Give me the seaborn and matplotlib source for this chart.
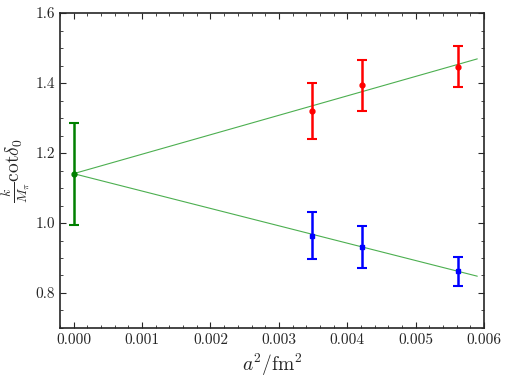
import matplotlib
matplotlib.use("Agg")
import matplotlib.pyplot as plt
import seaborn as sns
from matplotlib.ticker import MultipleLocator, FormatStrFormatter

# DATA
a2 = [0.00348, 0.00422, 0.00562]
red_y = [1.321, 1.393, 1.447]
red_err = [0.080, 0.072, 0.059]
blue_y = [0.964, 0.932, 0.862]
blue_err = [0.067, 0.060, 0.041]
cont_x = [0.0]
cont_y = [1.141]
cont_err = [0.146]

fit_x = [0.0, 0.0059]
fit_upper = [1.141, 1.469]
fit_lower = [1.141, 0.848]

sns.set_style("ticks")
plt.rcParams["font.family"] = ["cmr10", "DejaVu Serif"]
plt.rcParams["mathtext.fontset"] = "cm"
plt.rcParams["axes.formatter.use_mathtext"] = True

fig = plt.figure(figsize=(5.08, 3.79), dpi=100)
ax = fig.add_axes([0.118, 0.1346, 0.835, 0.831])

# fit lines
sns.lineplot(x=fit_x, y=fit_upper, color="#4caf50", lw=0.8, ax=ax)
sns.lineplot(x=fit_x, y=fit_lower, color="#4caf50", lw=0.8, ax=ax)

# data points
ax.errorbar(a2, red_y, yerr=red_err, fmt="o", color="red", ms=3.5,
            elinewidth=1.8, capsize=3.5, capthick=1.5)
ax.errorbar(a2, blue_y, yerr=blue_err, fmt="s", color="blue", ms=3.5,
            elinewidth=1.8, capsize=3.5, capthick=1.5)
ax.errorbar(cont_x, cont_y, yerr=cont_err, fmt="o", color="green", ms=3.5,
            elinewidth=1.8, capsize=3.5, capthick=1.5)

ax.set_xlim(-0.0002, 0.006)
ax.set_ylim(0.7, 1.6)
ax.xaxis.set_major_locator(MultipleLocator(0.001))
ax.xaxis.set_minor_locator(MultipleLocator(0.0002))
ax.yaxis.set_major_locator(MultipleLocator(0.2))
ax.yaxis.set_minor_locator(MultipleLocator(0.05))
ax.xaxis.set_major_formatter(FormatStrFormatter("%.3f"))
ax.yaxis.set_major_formatter(FormatStrFormatter("%.1f"))
ax.tick_params(which="both", direction="in", top=True, right=True, labelsize=11)
ax.tick_params(which="major", length=4)
ax.tick_params(which="minor", length=2)
for s in ax.spines.values():
    s.set_linewidth(1.2)

ax.set_xlabel(r"$a^2/\mathrm{fm}^2$", fontsize=14)
ax.set_ylabel(r"$\frac{k}{M_\pi}\mathrm{cot}\delta_0$", fontsize=14, labelpad=2)

fig.savefig("out.png", dpi=100)
